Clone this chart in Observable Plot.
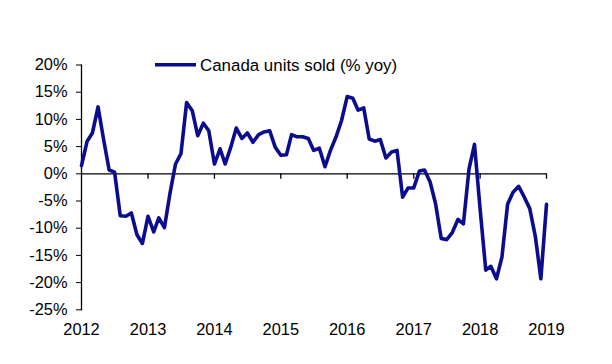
<!DOCTYPE html>
<html>
<head>
<meta charset="utf-8">
<script src="https://cdn.jsdelivr.net/npm/d3@7"></script>
<script src="https://cdn.jsdelivr.net/npm/@observablehq/plot@0.6"></script>
<style>
  html, body { margin: 0; padding: 0; background: #fff; }
  #chart { width: 612px; height: 364px; }
  svg { font-family: "Liberation Sans", Arial, sans-serif; }
</style>
</head>
<body>
<div id="chart"></div>
<script>
const seriesName = "Canada units sold (% yoy)";
const startYear = 2012;
// Monthly yoy % change, Jan 2012 .. Jan 2019
const values = [
  1.5, 6.0, 7.5, 12.3, 6.4, 0.7, 0.3, -7.7, -7.8, -7.2, -11.2, -12.8,
  -7.8, -10.7, -8.1, -9.9, -3.7, 1.8, 3.7, 13.1, 11.6, 7.0, 9.3, 7.9,
  1.8, 4.6, 1.8, 4.9, 8.4, 6.5, 7.5, 5.8, 7.2, 7.7, 7.9, 4.9,
  3.4, 3.5, 7.2, 6.8, 6.8, 6.5, 4.3, 4.7, 1.3, 4.3, 6.8, 9.8,
  14.2, 13.9, 11.7, 12.1, 6.4, 6.0, 6.3, 2.9, 4.0, 4.3, -4.3, -2.6,
  -2.6, 0.5, 0.7, -1.5, -5.5, -11.9, -12.1, -10.8, -8.4, -9.2, 0.9, 5.4,
  -6.5, -17.7, -17.0, -19.3, -15.3, -5.6, -3.4, -2.3, -4.3, -6.4, -11.6, -19.3,
  -5.6
];
const yTicks = [20, 15, 10, 5, 0, -5, -10, -15, -20, -25];
const yearTicks = [2012, 2013, 2014, 2015, 2016, 2017, 2018, 2019];

const data = values.map((v, i) => ({date: new Date(Date.UTC(startYear, i, 1)), value: v}));
const yearDates = yearTicks.map(y => new Date(Date.UTC(y, 0, 1)));

const lineColor = "#0c0c8e";

const plot = Plot.plot({
  width: 612,
  height: 364,
  marginLeft: 81,
  marginRight: 66,
  marginTop: 64.5,
  marginBottom: 54.7,
  style: {fontFamily: '"Liberation Sans", Arial, sans-serif', fontSize: "16.4px", color: "#000", background: "#fff"},
  x: {type: "utc", domain: [yearDates[0], yearDates[yearDates.length - 1]]},
  y: {domain: [-25, 20]},
  marks: [
    Plot.axisY({ticks: yTicks, tickSize: 5, tickPadding: 9, tickFormat: d => d + "%", label: null, fontSize: 16.4}),
    Plot.axisX({ticks: yearDates, tickSize: 0, tickPadding: 14, tickFormat: d3.utcFormat("%Y"), label: null, fontSize: 16.4}),
    Plot.frame({anchor: "left", stroke: "#000", strokeWidth: 1.3}),
    Plot.ruleY([0], {stroke: "#000", strokeWidth: 1.3}),
    Plot.ruleX(yearDates.slice(1), {x: d => d, y1: 0, y2: -1.0, stroke: "#000", strokeWidth: 1.3}),
    Plot.lineY(data, {x: "date", y: "value", stroke: lineColor, strokeWidth: 3.6, curve: "linear"})
  ]
});

// legend inside svg
const svg = d3.select(plot);
const lg = svg.append("g");
lg.append("line").attr("x1", 155).attr("x2", 196).attr("y1", 64.7).attr("y2", 64.7)
  .attr("stroke", lineColor).attr("stroke-width", 3.6);
lg.append("text").attr("x", 200).attr("y", 70.8).attr("font-size", 16.9).attr("fill", "#000")
  .attr("text-anchor", "start")
  .text(seriesName);

document.getElementById("chart").appendChild(plot);
</script>
</body>
</html>
